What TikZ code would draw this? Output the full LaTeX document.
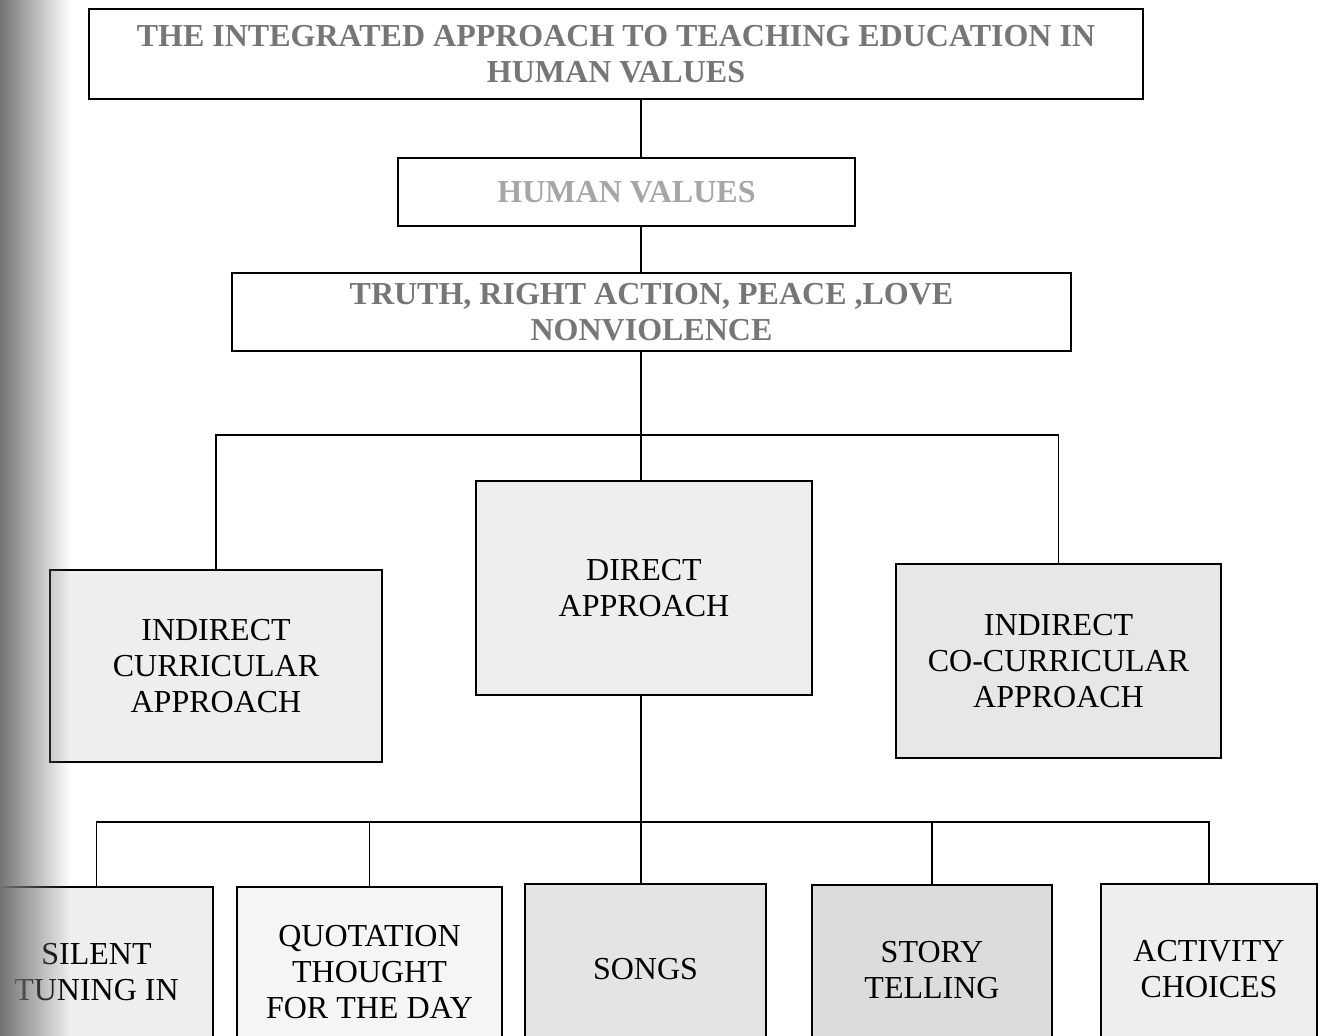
\documentclass[tikz,border=0pt]{standalone}
\usepackage{fontspec}
\setmainfont{Liberation Serif}
\usetikzlibrary{fadings}

\definecolor{headgray}{HTML}{767676}
\definecolor{palegray}{HTML}{A6A6A6}
\definecolor{boxgray}{HTML}{EEEEEE}
\definecolor{darkbox}{HTML}{DCDCDC}
\tikzfading[name=spine fade, left color=transparent!0, right color=transparent!100]

\begin{document}
\begin{tikzpicture}[x=0.5pt,y=-0.5pt,
    headbox/.style={draw, line width=1pt, fill=white, align=center, inner sep=0pt,
      font=\fontsize{16}{18}\selectfont\bfseries, text=headgray},
    approachbox/.style={draw, line width=1.1pt, fill=boxgray, align=center, inner sep=0pt,
      font=\fontsize{16}{18}\selectfont},
    methodbox/.style={approachbox, minimum height=85pt},
    link/.style={line width=0.7pt}]
  \clip (0,0) rectangle (1325,1036);
  \fill[white] (0,0) rectangle (1325,1036);

  % top of the tree
  \node[headbox, minimum width=527pt, minimum height=45pt] (title) at (616,54)
    {THE INTEGRATED APPROACH TO TEACHING EDUCATION IN\\HUMAN VALUES};
  \node[headbox, minimum width=228.5pt, minimum height=34pt, text=palegray] (values) at (626.5,192)
    {HUMAN VALUES};
  \node[headbox, minimum width=419.5pt, minimum height=39pt] (five) at (651.5,312)
    {TRUTH, RIGHT ACTION, PEACE ,LOVE\\NONVIOLENCE};

  % the three approaches
  \node[approachbox, minimum width=166pt, minimum height=96pt] (indcur) at (216,666)
    {INDIRECT\\CURRICULAR\\APPROACH};
  \node[approachbox, minimum width=168pt, minimum height=107pt] (direct) at (644,588)
    {DIRECT\\APPROACH};
  \node[approachbox, minimum width=162.5pt, minimum height=97pt, fill=boxgray!97!black] (indcoc) at (1058.5,661)
    {INDIRECT\\CO-CURRICULAR\\APPROACH};

  % methods of the direct approach
  \node[methodbox, minimum width=116.5pt] (silent) at (96.5,972) {SILENT\\TUNING IN};
  \node[methodbox, minimum width=132.5pt, fill=boxgray!60!white] (quote) at (369.5,972)
    {QUOTATION\\THOUGHT\\FOR THE DAY};
  \node[methodbox, minimum width=120.5pt, fill=boxgray!96!black] (songs) at (645.5,969) {SONGS};
  \node[methodbox, minimum width=120pt, fill=darkbox] (story) at (932,970) {STORY\\TELLING};
  \node[methodbox, minimum width=108pt] (activity) at (1209,969) {ACTIVITY\\CHOICES};

  \coordinate (spine) at (641,0);
  \coordinate (upperbus) at (641,435);
  \coordinate (lowerbus) at (641,822);

  \draw[link] (title.south -| spine) -- (values.north -| spine);
  \draw[link] (values.south -| spine) -- (five.north -| spine);
  \draw[link] (five.south -| spine) -- (upperbus);
  \draw[link] (indcur.north) |- (upperbus) -| (indcoc.north);
  \draw[link] (upperbus) -- (direct.north -| spine);
  \draw[link] (direct.south -| spine) -- (lowerbus);
  \draw[link] (silent.north) |- (lowerbus) -| (activity.north);
  \draw[link] (quote.north) -- (quote.north |- lowerbus);
  \draw[link] (songs.north -| spine) -- (lowerbus);
  \draw[link] (story.north) -- (story.north |- lowerbus);

  % shadow of the book spine
  \fill[black!55, path fading=spine fade] (0,0) rectangle (70,1036);
\end{tikzpicture}
\end{document}
